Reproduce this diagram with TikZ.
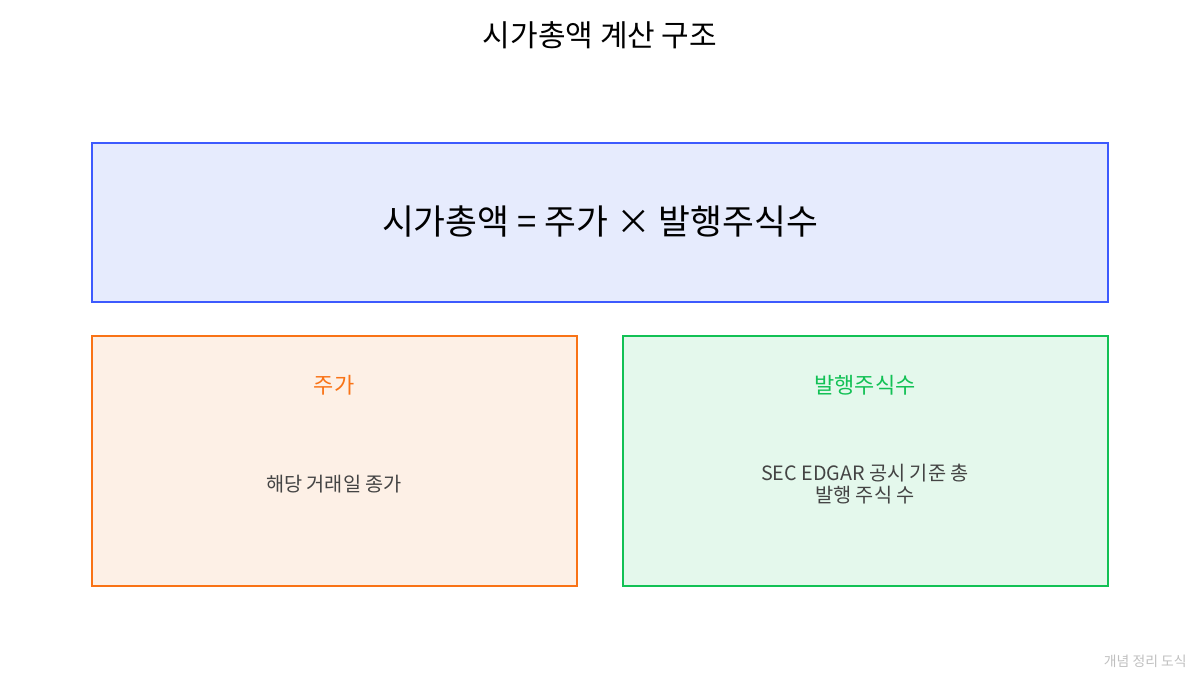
\documentclass[tikz,border=0pt]{standalone}
\usepackage{fontspec}
\setmainfont{Noto Sans CJK KR}
\definecolor{mainline}{HTML}{3D5AFE}
\definecolor{mainfill}{HTML}{E6EBFD}
\definecolor{priceline}{HTML}{F97316}
\definecolor{pricefill}{HTML}{FDF0E6}
\definecolor{shareline}{HTML}{12C155}
\definecolor{sharefill}{HTML}{E4F8EC}
\definecolor{bodytext}{HTML}{444444}
\tikzset{
	panel/.style={line width=2.2pt},
	bodylabel/.style={text=bodytext, font=\fontsize{14.8}{16}\selectfont, align=center}
}
\begin{document}
\begin{tikzpicture}[x=0.75pt, y=-0.75pt]
	\useasboundingbox (0,0) rectangle (1200,675);
	\node (title) at (600,35) {\fontsize{22.5}{26}\selectfont 시가총액 계산 구조};
	% formula box
	\draw [panel, draw=mainline, fill=mainfill] (92,143) rectangle (1108,302);
	\node (formula) at (600,221) {\fontsize{26}{30}\selectfont 시가총액 = 주가 × 발행주식수};
	% price box
	\draw [panel, draw=priceline, fill=pricefill] (92,336) rectangle (577,586);
	\node (price) at (334,385) [text=priceline] {\fontsize{16.5}{19}\selectfont 주가};
	\node (pricenote) at (334,484) [bodylabel] {해당 거래일 종가};
	% shares box
	\draw [panel, draw=shareline, fill=sharefill] (623,336) rectangle (1108,586);
	\node (shares) at (865,385) [text=shareline] {\fontsize{16.5}{19}\selectfont 발행주식수};
	\node (sharesnote) at (865,484) [bodylabel] {SEC EDGAR 공시 기준 총\\발행 주식 수};
	\node (mark) at (1187,661) [anchor=east, inner sep=0pt, text=black!25] {\fontsize{10.4}{12}\selectfont 개념 정리 도식};
\end{tikzpicture}
\end{document}
